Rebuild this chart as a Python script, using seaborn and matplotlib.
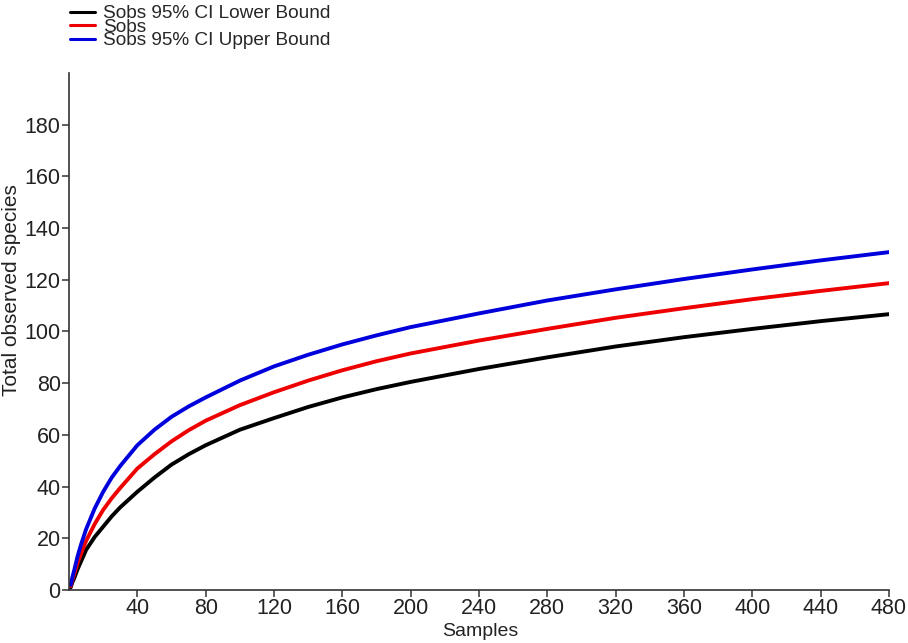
import pandas as pd
import matplotlib
matplotlib.use("Agg")
import matplotlib.pyplot as plt
import seaborn as sns

# values
samples = [1, 2, 3, 5, 7, 10, 15, 20, 25, 30, 40, 50, 60, 70, 80, 100, 120, 140, 160,
           180, 200, 240, 280, 320, 360, 400, 440, 480]
lower = [1.0, 3, 4.5, 8, 11, 15.5, 20.5, 24.5, 28.5, 32, 38, 43.5, 48.5, 52.5, 56, 62, 66.5, 70.8, 74.5,
         77.7, 80.5, 85.5, 90, 94.2, 97.8, 101, 104, 106.7]
sobs = [1.5, 4, 6, 10.5, 14, 19, 25.5, 31, 35.5, 39.5, 47, 52.5, 57.5, 61.8, 65.5, 71.5, 76.5, 81, 85,
        88.5, 91.5, 96.5, 101, 105.3, 109, 112.5, 115.7, 118.7]
upper = [2.0, 5, 7.5, 13, 17.5, 23.5, 31.5, 38, 43.5, 48, 56, 62, 67, 71, 74.5, 81, 86.5, 91, 95,
         98.5, 101.7, 107, 112, 116.3, 120.3, 124, 127.5, 130.7]

series_names = ["Sobs 95% CI Lower Bound", "Sobs", "Sobs 95% CI Upper Bound"]
colors = ["black", "#ee0000", "#0000dd"]
x_ticks = list(range(40, 481, 40))
y_ticks = list(range(0, 181, 20))

n = len(samples)
df = pd.DataFrame({
    "Samples": samples * 3,
    "value": lower + sobs + upper,
    "series": [series_names[0]] * n + [series_names[1]] * n + [series_names[2]] * n,
})

sns.set_style("ticks")
plt.rcParams["font.family"] = ["Liberation Sans", "DejaVu Sans"]

fig = plt.figure(figsize=(9.08, 6.43), dpi=100)
ax = fig.add_axes([0.076, 0.0824, 0.903, 0.8041])

sns.lineplot(data=df, x="Samples", y="value", hue="series", hue_order=series_names,
             palette=colors, linewidth=2.8, ax=ax, legend=False)

ax.set_xlim(0, 480)
ax.set_ylim(0, 200)
ax.set_xticks(x_ticks)
ax.set_yticks(y_ticks)
sns.despine(ax=ax)
for s in ["left", "bottom"]:
    ax.spines[s].set_color("#333333")
    ax.spines[s].set_linewidth(1.2)
ax.tick_params(axis="both", direction="out", length=5, width=1.1, color="#333333", pad=1)
for lab in ax.get_xticklabels() + ax.get_yticklabels():
    lab.set_fontsize(15.5)
    lab.set_color("#222222")

ax.set_xlabel("Samples", fontsize=14, color="#222222")
ax.xaxis.set_label_coords(0.501, -0.064)
ax.set_ylabel("Total observed species", fontsize=15, color="#222222")
ax.yaxis.set_label_coords(-0.058, 0.58)

handles = [plt.Line2D([], [], color=c, linewidth=2.2) for c in colors]
fig.legend(handles, series_names, loc="upper left", bbox_to_anchor=(0.069, 1.004),
           frameon=False, fontsize=13.7, labelspacing=-0.2, handlelength=1.3,
           handletextpad=0.4, borderaxespad=0)

fig.savefig("out.png", dpi=100)
